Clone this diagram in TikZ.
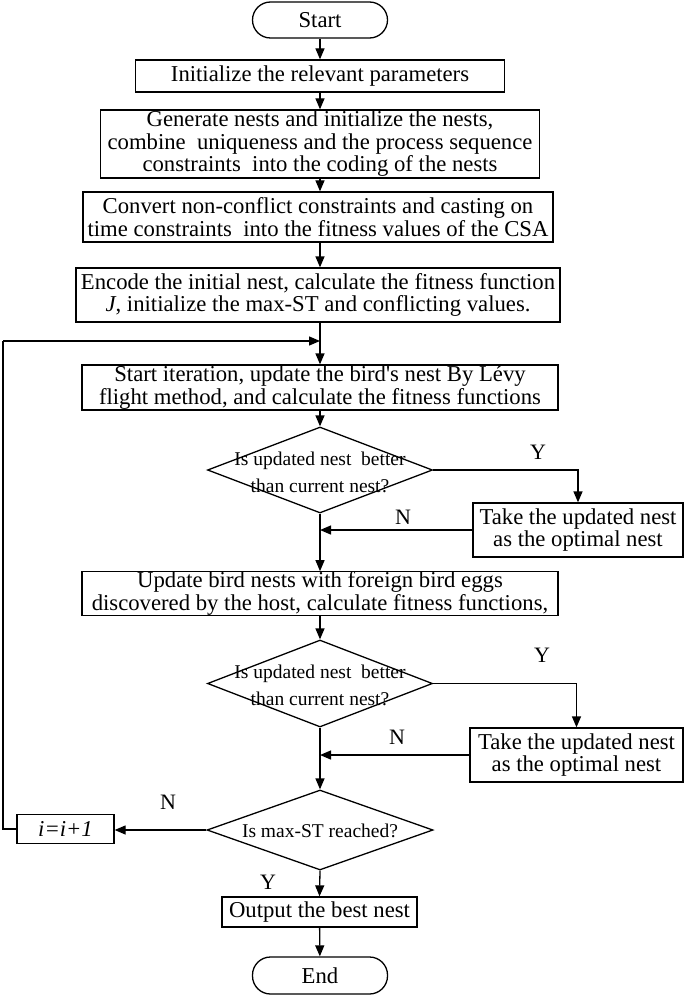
\documentclass[tikz,border=0pt]{standalone}
\usepackage{fontspec}
\setmainfont{Liberation Serif}
\usetikzlibrary{arrows.meta,shapes.geometric,calc}
\begin{document}
\begin{tikzpicture}[x=1pt,y=-1pt,
  box/.style={draw, line width=1.3pt, inner sep=0pt, align=center,
    font=\fontsize{22.7}{22.5}\selectfont},
  term/.style={box, rounded corners=18pt, minimum width=135pt, minimum height=36pt},
  dia/.style={draw, diamond, line width=1.3pt, inner sep=0pt},
  dtext/.style={align=center, inner sep=0pt, font=\fontsize{19.5}{27}\selectfont},
  lab/.style={inner sep=0pt, font=\fontsize{22}{22}\selectfont},
  arr/.style={-{Triangle[length=11pt,width=9pt]}, line width=1.3pt},
  ln/.style={line width=1.3pt}]
\useasboundingbox (0,0) rectangle (685,995);

\node[term] (start) at (320,20) {Start};
\node[box, minimum width=369pt, minimum height=32pt] (b1) at (320,76) {Initialize the relevant parameters};
\node[box, minimum width=439pt, minimum height=68pt] (b2) at (320,144)
  {Generate nests and initialize the nests,\\combine~ uniqueness and the process sequence\\constraints~ into the coding of the nests};
\node[box, minimum width=470pt, minimum height=50pt] (b3) at (318,217)
  {Convert non-conflict constraints and casting on\\time constraints~ into the fitness values of the CSA};
\node[box, minimum width=484pt, minimum height=54pt] (b4) at (318,295)
  {Encode the initial nest, calculate the fitness function\\\textit{J}, initialize the max-ST and conflicting values.};
\node[box, minimum width=476pt, minimum height=45pt] (b5) at (320,387.5)
  {Start iteration, update the bird\textquotesingle s nest By Lévy\\flight method, and calculate the fitness functions};
\node[dia, minimum width=225pt, minimum height=86pt] (d1) at (320,470) {};
\node[dtext] (d1t) at (320,472) {Is updated nest~ better\\than current nest?};
\node[box, minimum width=210pt, minimum height=54pt] (b6) at (578,530)
  {Take the updated nest\\as the optimal nest};
\node[box, minimum width=476pt, minimum height=43pt] (b7) at (320,593.5)
  {Update bird nests with foreign bird eggs\\discovered by the host, calculate fitness functions,};
\node[dia, minimum width=225pt, minimum height=87pt] (d2) at (320,683.5) {};
\node[dtext] (d2t) at (320,685.5) {Is updated nest~ better\\than current nest?};
\node[box, minimum width=213pt, minimum height=54pt] (b8) at (576.5,755)
  {Take the updated nest\\as the optimal nest};
\node[dia, minimum width=226pt, minimum height=80pt] (d3) at (320,830) {};
\node[dtext] (d3t) at (320,831) {Is max-ST reached?};
\node[box, minimum width=97pt, minimum height=29pt] (b9) at (65.5,829) {\textit{i=i+1}};
\node[box, minimum width=195pt, minimum height=30pt] (b10) at (319.5,912) {Output the best nest};
\node[term, minimum height=37pt] (end) at (320,975.5) {End};

\coordinate (loopin) at (320,341);
\coordinate (loopl) at (3,341);

\draw[arr] (start) -- (b1);
\draw[arr] (b1) -- (b2);
\draw[arr] (b2) -- (b3.north -| b2.south);
\draw[arr] (b3.south -| b5.north) -- (b4.north -| b5.north);
\draw[arr] (b4.south -| b5.north) -- (b5.north);
\draw[arr] (b5) -- (d1.north);
\draw[arr] (d1.east) -| (b6.north);
\draw[arr] (b6.west) -- (b6.west -| d1.south);
\draw[arr] (d1.south) -- (b7.north);
\draw[arr] (b7) -- (d2.north);
\draw[arr] (d2.east) -| (b8.north);
\draw[arr] (b8.west) -- (b8.west -| d2.south);
\draw[arr] (d2.south) -- (d3.north);
\draw[arr] (d3.west) -- (d3.west -| b9.east);
\draw[ln] (b9.west) -- (b9.west -| loopl) -- (loopl);
\draw[arr] (loopl) -- (loopin);
\draw[arr] (d3.south) -- (b10.north);
\draw[arr] (b10) -- (end);

\node[lab] (y1) at (538,452) {Y};
\node[lab] (n1) at (403,517) {N};
\node[lab] (y2) at (542,655) {Y};
\node[lab] (n2) at (397,737) {N};
\node[lab] (n3) at (168,802) {N};
\node[lab] (y3) at (268,882) {Y};
\end{tikzpicture}
\end{document}
